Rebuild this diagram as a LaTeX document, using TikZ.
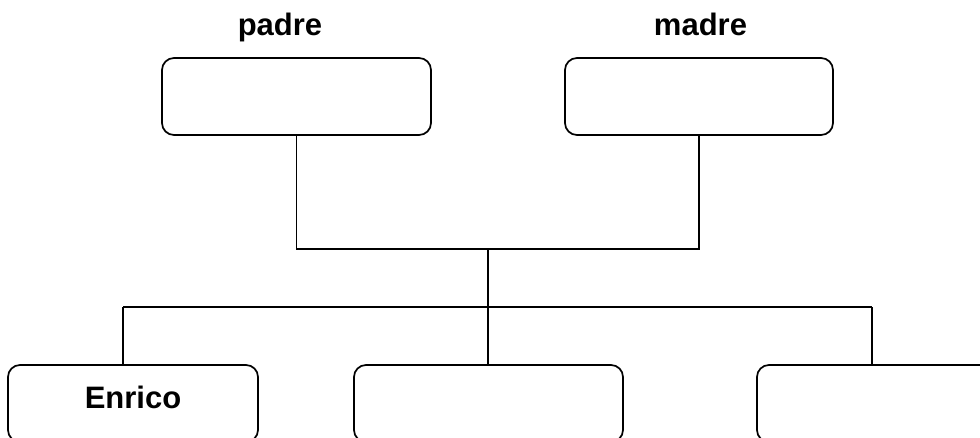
\documentclass[tikz,border=0pt]{standalone}
\usepackage{fontspec}
\setmainfont{Liberation Sans}
\begin{document}
\begin{tikzpicture}[x=1pt,y=-1pt,line width=1.7pt,
  box/.style={draw,rounded corners=12pt,minimum height=77pt,inner sep=0pt,text height=22pt,text depth=13pt,font=\fontsize{31}{33}\selectfont\bfseries},
  lbl/.style={inner sep=0pt,anchor=base,font=\fontsize{31}{33}\selectfont\bfseries}]
\useasboundingbox (0,0) rectangle (980,437);
\clip (0,0) rectangle (980,437);
\node[box,minimum width=269pt] (padre) at (296.5,96.5) {};
\node[box,minimum width=268pt] (madre) at (699,96.5) {};
\node[lbl] (lpadre) at (280,35) {padre};
\node[lbl] (lmadre) at (700.5,35) {madre};
\node[box,minimum width=250pt] (kid1) at (133,403.5) {Enrico};
\node[box,minimum width=269pt] (kid2) at (488.5,403.5) {};
\node[box,minimum width=268pt] (kid3) at (891,403.5) {};
\coordinate (j1) at (488,249);
\coordinate (j2) at (488,307);
\coordinate (c1) at (123,307);
\coordinate (c3) at (872,307);
\draw (padre.south) |- (j1);
\draw (madre.south) |- (j1);
\draw (j1) -- (j2);
\draw (c1) -- (c3);
\draw (c1) -- (c1 |- kid1.north);
\draw (j2) -- (j2 |- kid2.north);
\draw (c3) -- (c3 |- kid3.north);
\end{tikzpicture}
\end{document}
